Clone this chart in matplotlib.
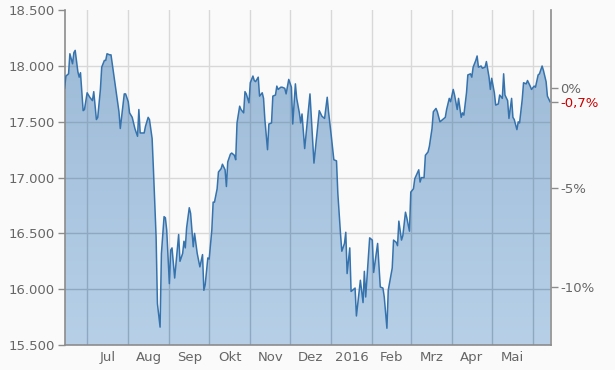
import numpy as np
import matplotlib
matplotlib.use("Agg")
import matplotlib.pyplot as plt
import matplotlib.dates as mdates
from matplotlib.colors import LinearSegmentedColormap
from matplotlib.ticker import FuncFormatter

# Daten: Tage seit Startdatum und Kurswerte
start = np.datetime64("2015-06-14")
days = [0, 1, 3, 4, 6, 7, 8, 10, 11, 12, 14, 15, 17, 19, 21, 22, 24, 25, 27, 28,
        30, 31, 32, 34, 35, 37, 38, 41, 42, 44, 45, 46, 48, 49, 51, 53, 55, 56, 57, 60,
        61, 63, 64, 66, 67, 69, 70, 72, 73, 75, 76, 77, 79, 80, 81, 83, 86, 87, 89, 90,
        91, 92, 94, 95, 97, 98, 100, 101, 102, 104, 105, 106, 108, 109, 111, 112, 113, 115, 116, 118,
        119, 121, 122, 123, 125, 126, 128, 129, 130, 132, 133, 135, 136, 137, 139, 140, 142, 143, 144, 146,
        147, 149, 150, 151, 153, 154, 156, 157, 159, 160, 161, 163, 164, 166, 167, 169, 171, 172, 174, 175,
        177, 178, 179, 181, 182, 185, 188, 192, 194, 196, 198, 199, 201, 203, 205, 206, 208, 209, 211, 212,
        213, 215, 216, 219, 220, 223, 225, 226, 227, 230, 232, 233, 236, 238, 240, 241, 243, 244, 247, 248,
        250, 251, 252, 254, 255, 257, 258, 260, 261, 263, 264, 267, 268, 269, 271, 272, 274, 275, 277, 278,
        280, 281, 283, 285, 287, 288, 290, 291, 293, 294, 296, 297, 299, 300, 301, 303, 304, 306, 307, 308,
        310, 311, 312, 314, 315, 317, 318, 320, 321, 322, 324, 325, 327, 328, 330, 331, 332, 334, 335, 337,
        338, 339, 341, 342, 343, 345, 346, 348, 349, 351, 352, 354, 355, 357, 358, 360, 361, 363, 364, 366]
values = [17800, 17910, 17930, 18110, 18020, 18120, 18140, 17950, 17900, 17940, 17600, 17610, 17760, 17720, 17690, 17770, 17520, 17540, 17790, 17990,
          18050, 18050, 18110, 18100, 18100, 17930, 17850, 17590, 17440, 17650, 17750, 17750, 17680, 17580, 17540, 17440, 17370, 17610, 17400, 17400,
          17460, 17540, 17520, 17350, 17070, 16470, 15870, 15660, 16320, 16650, 16640, 16530, 16050, 16350, 16370, 16100, 16490, 16250, 16320, 16430,
          16370, 16550, 16730, 16680, 16380, 16500, 16320, 16260, 16200, 16310, 15990, 16040, 16280, 16270, 16530, 16780, 16780, 16900, 17050, 17080,
          17120, 17070, 16920, 17140, 17210, 17220, 17200, 17160, 17490, 17640, 17610, 17580, 17770, 17750, 17670, 17850, 17910, 17870, 17860, 17900,
          17730, 17760, 17710, 17520, 17250, 17480, 17490, 17730, 17740, 17820, 17790, 17810, 17810, 17800, 17750, 17880, 17810, 17480, 17840, 17710,
          17580, 17490, 17570, 17260, 17380, 17750, 17130, 17600, 17550, 17530, 17720, 17590, 17380, 17160, 17150, 16860, 16500, 16340, 16410, 16510,
          16140, 16370, 15980, 16010, 15760, 16080, 15880, 16160, 15930, 16460, 16440, 16150, 16410, 16020, 16010, 15930, 15650, 15990, 16190, 16440,
          16420, 16390, 16610, 16440, 16480, 16690, 16640, 16520, 16870, 16900, 16990, 17070, 16960, 17000, 17000, 17200, 17230, 17280, 17440, 17590,
          17620, 17590, 17500, 17520, 17540, 17610, 17710, 17680, 17790, 17740, 17610, 17710, 17540, 17580, 17560, 17760, 17920, 17930, 17900, 17990,
          18050, 18090, 17990, 18000, 17980, 17990, 18040, 17900, 17790, 17890, 17760, 17650, 17660, 17740, 17710, 17930, 17740, 17690, 17530, 17710,
          17540, 17520, 17430, 17500, 17490, 17700, 17850, 17840, 17870, 17820, 17790, 17820, 17810, 17920, 17930, 18000, 17960, 17860, 17730, 17680]

month_starts = ["2015-07-01", "2015-08-01", "2015-09-01", "2015-10-01", "2015-11-01", "2015-12-01",
                "2016-01-01", "2016-02-01", "2016-03-01", "2016-04-01", "2016-05-01", "2016-06-01"]
month_labels = ["Jul", "Aug", "Sep", "Okt", "Nov", "Dez", "2016", "Feb", "Mrz", "Apr", "Mai"]
left_ticks = [15500, 16000, 16500, 17000, 17500, 18000, 18500]
pct_ticks = [0, -5, -10]

dates = start + np.array(days).astype("timedelta64[D]")
x = mdates.date2num(dates.astype("datetime64[ms]").astype(object))
vals = np.array(values, dtype=float)
base = vals[0]
ms = mdates.date2num(np.array(month_starts, dtype="datetime64[ms]").astype(object))

bg = "#fafafa"
txt = "#666666"
axis_col = "#8c8c8c"
ylo, yhi = 15500, 18500
xlo, xhi = x[0], x[-1] + 0.5

fig = plt.figure(figsize=(6.15, 3.70), dpi=100, facecolor=bg)
ax = fig.add_axes([0.105, 0.0676, 0.7905, 0.9048])
ax.set_facecolor(bg)

# Verlauf unter der Kurve
grad = np.linspace(0, 1, 256).reshape(-1, 1)
cmap = LinearSegmentedColormap.from_list("fill", ["#b7d0e8", "#9ab8d5"])
im = ax.imshow(grad, extent=[xlo, xhi, ylo, yhi], origin="lower", aspect="auto",
               cmap=cmap, zorder=1, interpolation="bilinear")
poly = ax.fill_between(x, vals, ylo, color="none", linewidth=0)
clip = poly.get_paths()[0]
im.set_clip_path(clip, transform=ax.transData)

ax.plot(x, vals, color="#3673ad", linewidth=1.1, zorder=3)

# Gitter: hell auf dem Hintergrund, dunkler auf der Flaeche
for m in ms:
    ax.axvline(m, color="#d8d8d8", linewidth=1.0, zorder=0.5, snap=True)
    gl = ax.axvline(m, color="#8ea8c1", linewidth=1.0, zorder=2, snap=True)
    gl.set_clip_path(clip, transform=ax.transData)
for t in left_ticks[1:-1]:
    ax.axhline(t, color="#d8d8d8", linewidth=1.0, zorder=0.5, snap=True)
    gl = ax.axhline(t, color="#8ea8c1", linewidth=1.0, zorder=2, snap=True)
    gl.set_clip_path(clip, transform=ax.transData)

ax.set_xlim(xlo, xhi)
ax.set_ylim(ylo, yhi)

# Achsen
ax.set_yticks(left_ticks)
ax.yaxis.set_major_formatter(FuncFormatter(lambda v, p: f"{v:,.0f}".replace(",", ".")))
ax.tick_params(axis="y", colors=axis_col, labelcolor=txt, labelsize=9.5, length=5, width=1, pad=2)

mids = (ms[:-1] + ms[1:]) / 2
ax.set_xticks(mids)
ax.set_xticklabels(month_labels)
ax.tick_params(axis="x", length=0, labelcolor=txt, labelsize=9.5, pad=4)

for s in ["top", "right"]:
    ax.spines[s].set_visible(False)
for s in ["left", "bottom"]:
    ax.spines[s].set_color(axis_col)
    ax.spines[s].set_linewidth(1.2)

# rechte Achse in Prozent
ax2 = ax.twinx()
ax2.set_ylim((ylo / base - 1) * 100, (yhi / base - 1) * 100)
last_pct = (vals[-1] / base - 1) * 100
ax2.set_yticks(pct_ticks + [last_pct])
labels = [f"{p:.0f}%" for p in pct_ticks] + [f"{last_pct:.1f}%".replace(".", ",")]
ax2.set_yticklabels(labels)
ax2.tick_params(axis="y", colors=axis_col, labelcolor=txt, labelsize=9.5, length=5, width=1, pad=2)
ax2.get_yticklabels()[-1].set_color("#cc0000")
for s in ["top", "left", "bottom"]:
    ax2.spines[s].set_visible(False)
ax2.spines["right"].set_color(axis_col)
ax2.spines["right"].set_linewidth(1.2)

fig.savefig("out.png", dpi=100, facecolor=bg)
